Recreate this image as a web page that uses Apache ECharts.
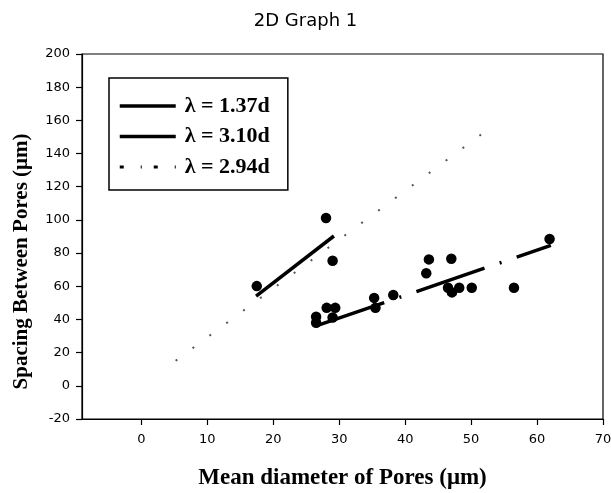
<!DOCTYPE html>
<html>
<head>
<meta charset="utf-8">
<script src="https://cdn.jsdelivr.net/npm/echarts@6/dist/echarts.min.js"></script>
<style>
  html, body { margin: 0; padding: 0; background: #fff; }
  #chart { width: 611px; height: 493px; }
</style>
</head>
<body>
<div id="chart"></div>
<script type="text/javascript">
// measured pores (mean diameter, spacing)
var poreX = [17.5, 28.0, 29.0, 26.5, 26.5, 28.1, 29.4, 29.0, 35.3, 35.5, 38.2, 43.2, 43.6, 47.0, 46.5, 47.1, 48.2, 50.1, 56.5, 61.9];
var poreY = [60.1, 101.2, 75.4, 41.6, 38.0, 47.0, 47.0, 41.2, 53.0, 47.0, 54.7, 67.8, 76.2, 76.6, 59.1, 56.3, 59.1, 59.1, 59.1, 88.5];

// fitted lines, end points
var fitNames = ['λ = 1.37d', 'λ = 3.10d', 'λ = 2.94d'];
var fit137X = [26.5, 62.1], fit137Y = [36.1, 84.6];
var fit310X = [17.4, 29.2], fit310Y = [54.1, 90.3];
var fit294X = [5.2, 53.5],  fit294Y = [15.1, 157.3];

var xTicks = [0, 10, 20, 30, 40, 50, 60, 70];

function pairs(xs, ys) {
	var out = [];
	for (var i = 0; i < xs.length; i++) out.push([xs[i], ys[i]]);
	return out;
}

var myChart = echarts.init(document.getElementById('chart'));
var sans = 'DejaVu Sans';
var serif = 'Liberation Serif';

var option = {
	backgroundColor: '#fff',
	animation: false,
	color: ['#000', '#000', '#000', '#000'],
	title: {
		text: '2D Graph 1',
		left: 'center',
		top: 7,
		textStyle: { fontFamily: sans, fontSize: 18, fontWeight: 'normal', color: '#000' }
	},
	grid: {
		left: 82, top: 54, right: 8, bottom: 74,
		outerBoundsMode: 'none',
		show: true, borderColor: '#000', borderWidth: 1.2
	},
	legend: {
		orient: 'vertical',
		left: 109, top: 78,
		padding: [17, 18, 12, 9],
		itemWidth: 56, itemHeight: 22, itemGap: 8.5,
		borderColor: '#000', borderWidth: 1.5,
		backgroundColor: '#fff',
		textStyle: { fontFamily: serif, fontSize: 22, fontWeight: 'bold', color: '#000', padding: [0, 0, 0, 4] },
		data: [
			{ name: fitNames[0], itemStyle: { opacity: 0 }, lineStyle: { type: 'solid', width: 3.5, color: '#000' } },
			{ name: fitNames[1], itemStyle: { opacity: 0 }, lineStyle: { type: 'solid', width: 3.5, color: '#000' } },
			{ name: fitNames[2], itemStyle: { opacity: 0 }, lineStyle: { type: [4, 17, 1, 12], width: 3, color: '#000' } }
		]
	},
	xAxis: {
		type: 'value',
		min: -9, max: 70,
		name: 'Mean diameter of Pores (μm)',
		nameLocation: 'middle',
		nameGap: 48,
		nameTextStyle: { fontFamily: serif, fontSize: 23, fontWeight: 'bold', color: '#000' },
		axisLine: { onZero: false, lineStyle: { color: '#000', width: 1.2 } },
		axisTick: { show: true, inside: false, length: 6, customValues: xTicks, lineStyle: { color: '#000', width: 1.2 } },
		axisLabel: { customValues: xTicks, margin: 14, fontFamily: sans, fontSize: 13, color: '#000' },
		splitLine: { show: false }
	},
	yAxis: {
		type: 'value',
		min: -20, max: 200, interval: 20,
		name: 'Spacing Between Pores (μm)',
		nameLocation: 'middle',
		nameGap: 50,
		nameTextStyle: { fontFamily: serif, fontSize: 21, fontWeight: 'bold', color: '#000', padding: [0, 50, 0, 0] },
		axisLine: { onZero: false, lineStyle: { color: '#000', width: 1.2 } },
		axisTick: { show: true, inside: false, length: 6, lineStyle: { color: '#000', width: 1.2 } },
		axisLabel: { margin: 12, fontFamily: sans, fontSize: 13, color: '#000' },
		splitLine: { show: false }
	},
	series: [
		{
			name: fitNames[0],
			type: 'line',
			symbol: 'none',
			data: pairs(fit137X, fit137Y),
			itemStyle: { color: '#000' },
			lineStyle: { color: '#000', width: 3.5, type: [72, 16, 2, 16] },
			z: 3
		},
		{
			name: fitNames[1],
			type: 'line',
			symbol: 'none',
			data: pairs(fit310X, fit310Y),
			itemStyle: { color: '#000' },
			lineStyle: { color: '#000', width: 3.5, type: 'solid' },
			z: 3
		},
		{
			name: fitNames[2],
			type: 'line',
			symbol: 'none',
			data: pairs(fit294X, fit294Y),
			itemStyle: { color: '#000' },
			lineStyle: { color: '#555', width: 2, type: [2, 19] },
			z: 3
		},
		{
			name: 'pores',
			type: 'scatter',
			symbol: 'circle',
			symbolSize: 10.5,
			itemStyle: { color: '#000', opacity: 1 },
			data: pairs(poreX, poreY),
			z: 4
		}
	]
};
myChart.setOption(option);
</script>
</body>
</html>
